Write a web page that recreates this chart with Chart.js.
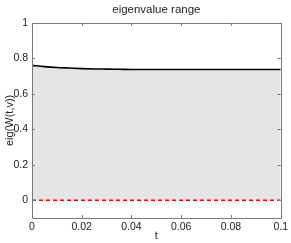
<!DOCTYPE html>
<html>
<head>
<meta charset="utf-8">
<script src="https://cdn.jsdelivr.net/npm/chart.js@4/dist/chart.umd.min.js"></script>
<style>
html,body{margin:0;padding:0;background:#fff;}
#wrap{width:291px;height:243px;}
</style>
</head>
<body>
<div id="wrap"><canvas id="c" width="291" height="243"></canvas></div>
<script>
const tValues = [0, 0.005, 0.01, 0.015, 0.02, 0.025, 0.03, 0.035, 0.04, 0.05, 0.06, 0.07, 0.08, 0.09, 0.1];
const maxEig = [0.760, 0.753, 0.748, 0.745, 0.742, 0.740, 0.739, 0.738, 0.737, 0.737, 0.737, 0.737, 0.737, 0.737, 0.737];
const minEig = [0, 0, 0, 0, 0, 0, 0, 0, 0, 0, 0, 0, 0, 0, 0];
const xTicks = [0, 0.02, 0.04, 0.06, 0.08, 0.1];
const yTicks = [0, 0.2, 0.4, 0.6, 0.8, 1];
const titleText = 'eigenvalue range';
const xLabel = 't';
const yLabel = 'eig(W(t,v))';

const FONT = 'Liberation Sans, Arial, Helvetica, sans-serif';
const axisColor = '#7a7a7a';

const boxPlugin = {
  id: 'boxTicks',
  afterDraw(chart) {
    const {ctx, chartArea: a, scales} = chart;
    ctx.save();
    ctx.strokeStyle = axisColor;
    ctx.lineWidth = 1;
    ctx.beginPath();
    ctx.rect(Math.round(a.left) + 0.5, Math.round(a.top) + 0.5, Math.round(a.right - a.left), Math.round(a.bottom - a.top));
    ctx.stroke();
    const L = 3;
    ctx.beginPath();
    scales.x.ticks.forEach(t => {
      const x = Math.round(scales.x.getPixelForValue(t.value)) + 0.5;
      ctx.moveTo(x, a.bottom); ctx.lineTo(x, a.bottom - L);
      ctx.moveTo(x, a.top); ctx.lineTo(x, a.top + L);
    });
    scales.y.ticks.forEach(t => {
      const y = Math.round(scales.y.getPixelForValue(t.value)) + 0.5;
      ctx.moveTo(a.left, y); ctx.lineTo(a.left + L, y);
      ctx.moveTo(a.right, y); ctx.lineTo(a.right - L, y);
    });
    ctx.stroke();
    ctx.restore();
  }
};

new Chart(document.getElementById('c'), {
  type: 'line',
  data: {
    labels: tValues,
    datasets: [
      {
        label: 'max',
        data: tValues.map((t, i) => ({x: t, y: maxEig[i]})),
        borderColor: '#000',
        borderWidth: 1.6,
        backgroundColor: '#e5e5e5',
        fill: '+1',
        pointRadius: 0,
        cubicInterpolationMode: 'monotone',
        order: 2
      },
      {
        label: 'min',
        data: tValues.map((t, i) => ({x: t, y: minEig[i]})),
        borderColor: '#ff0000',
        borderWidth: 1.5,
        borderDash: [4, 3],
        fill: false,
        pointRadius: 0,
        order: 1
      }
    ]
  },
  options: {
    responsive: false,
    animation: false,
    devicePixelRatio: 1,
    layout: {padding: {left: 0, right: 9, top: 0, bottom: 0}},
    plugins: {
      legend: {display: false},
      tooltip: {enabled: false},
      title: {
        display: true,
        fullSize: false,
        text: titleText,
        color: '#222',
        font: {family: FONT, size: 11.5, weight: 'normal'},
        padding: {top: 3, bottom: 6}
      }
    },
    scales: {
      x: {
        type: 'linear',
        min: 0, max: 0.1,
        afterBuildTicks: s => { s.ticks = xTicks.map(v => ({value: v})); },
        afterFit: s => { s.height = 25; },
        grid: {display: false, drawTicks: false},
        border: {display: false},
        ticks: {
          color: '#222', font: {family: FONT, size: 10.5}, padding: 3, maxRotation: 0,
          callback: v => String(parseFloat(v.toFixed(2)))
        },
        title: {display: true, text: xLabel, color: '#222', font: {family: FONT, size: 11}, padding: {top: -3, bottom: 0}}
      },
      y: {
        type: 'linear',
        min: -0.1, max: 1,
        afterBuildTicks: s => { s.ticks = yTicks.map(v => ({value: v})); },
        afterFit: s => { s.width = 32; },
        grid: {display: false, drawTicks: false},
        border: {display: false},
        ticks: {
          color: '#222', font: {family: FONT, size: 10.5}, padding: 4,
          callback: v => String(parseFloat(v.toFixed(1)))
        },
        title: {display: true, text: yLabel, color: '#222', font: {family: FONT, size: 11}, padding: {top: 3, bottom: 0}}
      }
    }
  },
  plugins: [boxPlugin]
});
</script>
</body>
</html>
